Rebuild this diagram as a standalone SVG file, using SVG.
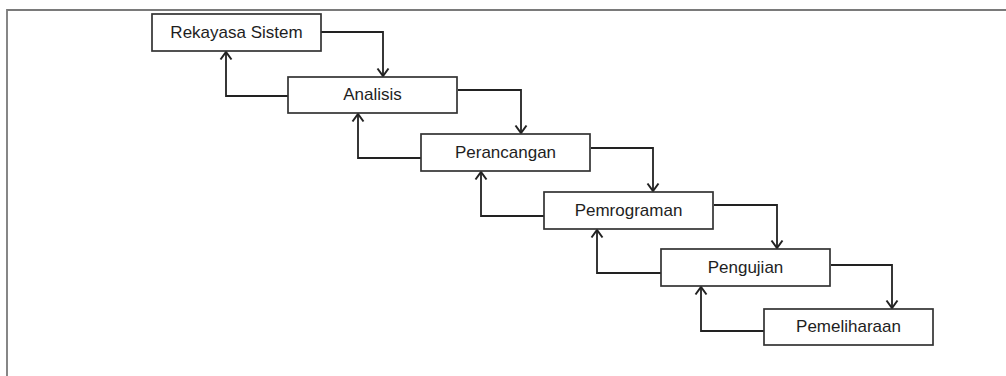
<svg xmlns="http://www.w3.org/2000/svg" width="1006" height="376" viewBox="0 0 1006 376">
<style>
.box{fill:#fff;stroke:#333;stroke-width:1.7}
.lbl{font-family:"Liberation Sans",Arial,sans-serif;font-size:17px;fill:#1e1e1e;text-anchor:middle}
.con{fill:none;stroke:#222;stroke-width:1.8}
</style>
<defs>
<marker id="ah" markerUnits="userSpaceOnUse" markerWidth="16" markerHeight="16" viewBox="-10 -8 12 16" refX="0" refY="0" orient="auto">
<path d="M-7.5,-5.5 L0,0 L-7.5,5.5" fill="none" stroke="#222" stroke-width="2"/>
</marker>
</defs>
<rect width="1006" height="376" fill="#fff"/>
<path d="M7,376 V10 H1006" fill="none" stroke="#7a7a7a" stroke-width="1.8"/>
<g id="connectors">
<polyline class="con" points="321,32 383,32 383,76" marker-end="url(#ah)"/>
<polyline class="con" points="458,90 521,90 521,133" marker-end="url(#ah)"/>
<polyline class="con" points="591,148 653,148 653,191" marker-end="url(#ah)"/>
<polyline class="con" points="714,205 777,205 777,248" marker-end="url(#ah)"/>
<polyline class="con" points="831,265 892,265 892,308" marker-end="url(#ah)"/>
<polyline class="con" points="288,96 226,96 226,52" marker-end="url(#ah)"/>
<polyline class="con" points="421,158 358,158 358,114" marker-end="url(#ah)"/>
<polyline class="con" points="544,216 481,216 481,172" marker-end="url(#ah)"/>
<polyline class="con" points="661,273 597,273 597,230" marker-end="url(#ah)"/>
<polyline class="con" points="764,331 701,331 701,287" marker-end="url(#ah)"/>
</g>
<g id="rekayasa-sistem"><rect class="box" x="152" y="14" width="169" height="37"/><text class="lbl" x="236.5" y="38">Rekayasa Sistem</text></g>
<g id="analisis"><rect class="box" x="288" y="77" width="169" height="36"/><text class="lbl" x="372.5" y="100">Analisis</text></g>
<g id="perancangan"><rect class="box" x="421" y="134" width="169" height="37"/><text class="lbl" x="505.5" y="158">Perancangan</text></g>
<g id="pemrograman"><rect class="box" x="544" y="192" width="169" height="37"/><text class="lbl" x="628.5" y="216">Pemrograman</text></g>
<g id="pengujian"><rect class="box" x="661" y="249" width="169" height="37"/><text class="lbl" x="745.5" y="273">Pengujian</text></g>
<g id="pemeliharaan"><rect class="box" x="764" y="309" width="169" height="36"/><text class="lbl" x="848.5" y="332">Pemeliharaan</text></g>
</svg>
